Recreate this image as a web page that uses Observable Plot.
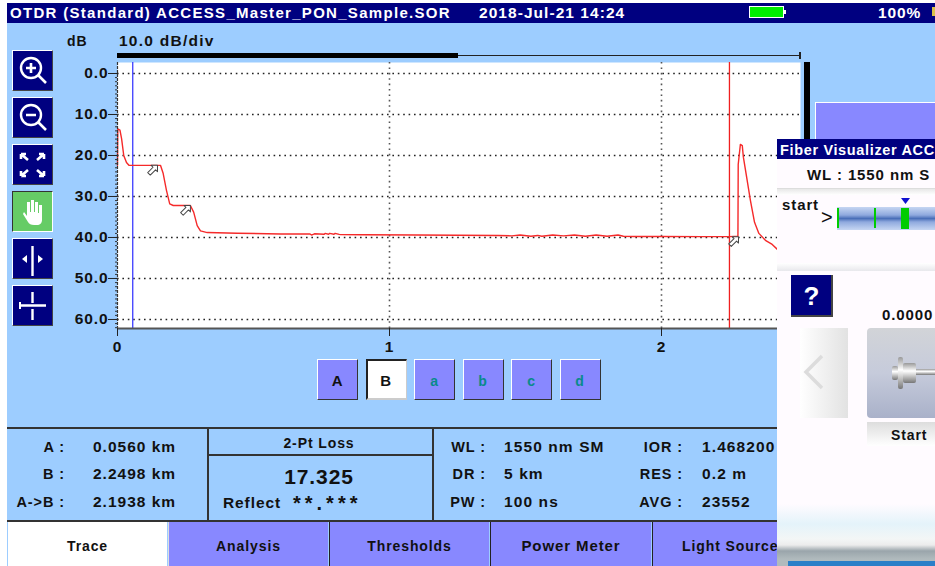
<!DOCTYPE html>
<html>
<head>
<meta charset="utf-8">
<script src="https://cdn.jsdelivr.net/npm/d3@7"></script>
<script src="https://cdn.jsdelivr.net/npm/@observablehq/plot@0.6"></script>
<style>
html,body{margin:0;padding:0;background:#fff}
#screen{position:relative;width:935px;height:566px;overflow:hidden;background:#fff;font-family:"Liberation Sans",sans-serif;font-weight:700;color:#111;letter-spacing:.9px}
.b{position:absolute;box-sizing:border-box}
.t{position:absolute;white-space:nowrap;line-height:20px;height:20px}
</style>
</head>
<body>
<div id="screen"></div>
<script>
// Trace
const traceKm = [0, 0.001, 0.009, 0.015, 0.023, 0.033, 0.042, 0.158, 0.168, 0.180, 0.192, 0.205, 0.268, 0.280, 0.293, 0.305, 0.330, 0.440, 0.600, 0.708, 0.713, 0.724, 0.760, 0.763, 0.776, 0.780, 0.796, 0.800, 0.815, 0.820, 0.900, 1.100, 1.400, 1.450, 1.480, 1.520, 1.545, 1.560, 1.600, 1.640, 1.680, 1.720, 1.760, 1.800, 1.840, 1.860, 1.900, 2.000, 2.150, 2.249, 2.281, 2.282, 2.290, 2.297, 2.301, 2.313, 2.327, 2.342, 2.358, 2.382, 2.407, 2.426, 2.470];
const traceDb = [22.4, 13.5, 13.8, 15.9, 20.0, 21.7, 22.4, 22.4, 24.4, 28.5, 31.8, 32.2, 32.2, 33.8, 37.1, 38.4, 38.8, 38.95, 39.15, 39.15, 39.4, 39.1, 39.2, 39.0, 39.2, 39.0, 39.2, 39.0, 39.25, 39.3, 39.35, 39.4, 39.5, 39.6, 39.4, 39.7, 39.5, 39.7, 39.4, 39.6, 39.4, 39.7, 39.4, 39.7, 39.4, 39.7, 39.75, 39.75, 39.8, 39.8, 39.7, 22.2, 17.3, 17.6, 20.4, 25.3, 31.0, 36.3, 39.0, 40.7, 41.7, 42.9, 44.5];
const eventKm = [0.147, 0.268, 2.283];
const eventDb = [22.4, 32.2, 39.8];
const cursorA = [0.0560];
const cursorB = [2.2498];
const dbTicks = [0, 10, 20, 30, 40, 50, 60];
const dbMinor = d3.range(0, 63, 1);
const kmTicks = [0, 1, 2];
const xDomain = [0, 2.511];
const yDomain = [-2.68, 62.2];

// Text of the instrument screen
const titleText = "OTDR (Standard) ACCESS_Master_PON_Sample.SOR";
const dateText = "2018-Jul-21 14:24";
const batteryText = "100%";
const cursorLabels = ["A :", "B :", "A->B :"];
const cursorValues = ["0.0560 km", "2.2498 km", "2.1938 km"];
const paramLabelsL = ["WL :", "DR :", "PW :"];
const paramValuesL = ["1550 nm SM", "5 km", "100 ns"];
const paramLabelsR = ["IOR :", "RES :", "AVG :"];
const paramValuesR = ["1.468200", "0.2 m", "23552"];
const tabNames = ["Trace", "Analysis", "Thresholds", "Power Meter", "Light Source"];
const markerNames = ["A", "B", "a", "b", "c", "d"];

const BG = "#9DCDFF", NAVY = "#000080", VIOLET = "#8888FF";
const stage = document.getElementById("screen");

function box(x, y, w, h, style = "", html = "") {
  const d = document.createElement("div");
  d.className = "b";
  d.style.cssText = `left:${x}px;top:${y}px;width:${w}px;height:${h}px;${style}`;
  d.innerHTML = html;
  stage.appendChild(d);
  return d;
}
function text(x, cy, s, opt = {}) {
  const d = document.createElement("div");
  d.className = "t";
  const tr = opt.anchor === "end" ? "translateX(-100%)" : opt.anchor === "middle" ? "translateX(-50%)" : "";
  d.style.cssText = `left:${x}px;top:${cy - 10}px;font-size:${opt.size || 14}px;color:${opt.color || "#111"};transform:${tr};${opt.style || ""}`;
  d.textContent = s;
  stage.appendChild(d);
  return d;
}

// Base screen
box(7, 3, 928, 563, `background:${BG}`);
box(7, 3, 928, 20, `background:${NAVY}`);
text(10, 13, titleText, {color: "#fff", size: 15, style: "letter-spacing:1.3px"});
text(479, 13, dateText, {color: "#fff", size: 15.5, style: "letter-spacing:1.05px"});
text(878, 13, batteryText, {color: "#fff", size: 15.5});
box(749, 6, 35, 12, "background:#00EE00;border:1px solid #fff");
box(784, 10, 2, 4, "background:#fff");
box(932, 7, 3, 9, "background:#D9C24A");
text(67, 41, "dB");
text(119, 41, "10.0 dB/div", {size: 15.5, style: "letter-spacing:1.25px"});
box(117, 53, 341, 5, "background:#000");
box(458, 55, 342, 1, "background:#222");
box(799, 52, 2, 7, "background:#222");
box(804, 62, 6, 80, "background:#000");
box(815, 102, 120, 40, `background:${VIOLET};border-top:1px solid #fff;border-left:1px solid #fff`);

// Left tool buttons
const icons = [
  `<circle cx="19" cy="18" r="10" fill="none" stroke="#fff" stroke-width="2.4"/><path d="M14 18h10M19 13v10M26 25l8 8" stroke="#fff" stroke-width="2.6" fill="none"/>`,
  `<circle cx="19" cy="18" r="10" fill="none" stroke="#fff" stroke-width="2.4"/><path d="M14 18h10M26 25l8 8" stroke="#fff" stroke-width="2.6" fill="none"/>`,
  `<path d="M9 10l7 6M9 10h5M9 10v5M32 10l-7 6M32 10h-5M32 10v5M9 32l7-6M9 32h5M9 32v-5M32 32l-7-6M32 32h-5M32 32v-5" stroke="#fff" stroke-width="2.6" fill="none"/>`,
  `<path d="M11 23l5 8c1 2 3 3 6 3h3c3 0 5-2 5-5V14h-3v8h-1V11h-3v10h-1V9h-3v12h-1V11h-3v14l-3-4z" fill="#fff"/>`,
  `<path d="M20.5 8v30" stroke="#fff" stroke-width="2.4"/><path d="M10 21l5-4v8zM31 21l-5-4v8z" fill="#fff"/>`,
  `<path d="M20.5 7v11M20.5 24v11M8 20.5h26" stroke="#fff" stroke-width="2.4"/><path d="M8 17v7" stroke="#fff" stroke-width="2"/>`
];
const buttonTops = [50, 97, 144, 191, 238, 285];
buttonTops.forEach((y, i) => {
  const green = i === 3;
  box(12, y, 41, 41,
    `background:${green ? "#66CC66" : NAVY};` + (green
      ? "border-top:1px solid #333;border-left:1px solid #333;border-right:1px solid #fff;border-bottom:1px solid #fff"
      : "border-top:1px solid #fff;border-left:1px solid #fff;border-right:1px solid #444;border-bottom:1px solid #444"),
    `<svg width="41" height="41" viewBox="0 0 41 41" style="position:absolute;left:-1px;top:-1px">${icons[i]}</svg>`);
});

// The chart itself
const arrowShape = {
  draw(c) {
    c.moveTo(0, 0); c.lineTo(4.5, -4.5); c.lineTo(1.8, -4.5); c.lineTo(1.8, -12);
    c.lineTo(-1.8, -12); c.lineTo(-1.8, -4.5); c.lineTo(-4.5, -4.5); c.closePath();
  }
};
const axisFont = {fontSize: 15.5, fontWeight: 700, fontFamily: "Liberation Sans", fill: "#111"};
const chart = Plot.plot({
  width: 935,
  height: 566,
  marginLeft: 117, marginRight: 135, marginTop: 62, marginBottom: 238,
  x: {domain: xDomain, label: null},
  y: {domain: yDomain, range: [62, 328], label: null},
  style: {background: "transparent", letterSpacing: "0.9px", overflow: "visible", position: "absolute", left: "0", top: "0", maxWidth: "none"},
  marks: [
    Plot.frame({fill: "#fff", stroke: null}),
    Plot.ruleY(dbTicks, {y: d => d, stroke: "#222", strokeWidth: 1.3, strokeDasharray: "1.6,3.8"}),
    Plot.ruleX(kmTicks.slice(1), {x: d => d, stroke: "#555", strokeWidth: 1.6, strokeDasharray: "1.6,3.8"}),
    Plot.ruleX(cursorA, {x: d => d, stroke: "#3C3CFF", strokeWidth: 1.3}),
    Plot.ruleX(cursorB, {x: d => d, stroke: "#F02020", strokeWidth: 1.3}),
    Plot.line(traceKm.map((k, i) => ({k, d: traceDb[i]})), {x: "k", y: "d", stroke: "#F52A2A", strokeWidth: 1.4}),
    Plot.vector(eventKm.map((k, i) => ({k, d: eventDb[i]})), {
      x: "k", y: "d", shape: arrowShape, anchor: "start", rotate: 225, length: 12,
      fill: "#fff", stroke: "#444", strokeWidth: 1
    }),
    Plot.ruleX([0], {x: d => d, stroke: "#333", strokeWidth: 1.2, strokeDasharray: "3,1"}),
    Plot.ruleY([yDomain[1]], {y: d => d, stroke: "#555", strokeWidth: 2}),
    Plot.axisY({ticks: dbMinor, tickSize: 2, tickFormat: () => "", label: null, stroke: "#333"}),
    Plot.axisY({ticks: dbTicks, tickSize: 9, tickPadding: 0, tickFormat: d3.format(".1f"), label: null, stroke: "#222", ...axisFont}),
    Plot.axisX({ticks: kmTicks, tickSize: 8, tickPadding: 4, tickFormat: d3.format("d"), label: null, stroke: "#222", ...axisFont})
  ]
});
stage.appendChild(chart);

// Marker buttons
markerNames.forEach((name, i) => {
  const x = 317 + i * 48.5;
  const selected = name === "B";
  box(x, 359, 41, 41,
    `background:${selected ? "#fff" : VIOLET};` + (selected
      ? "border-top:2px solid #222;border-left:2px solid #222;border-right:1px solid #ccc;border-bottom:2px solid #ccc"
      : "border-top:1px solid #fff;border-left:1px solid #fff;border-right:1px solid #333;border-bottom:1px solid #333"));
  text(x + 20.5, 381, name, {anchor: "middle", color: i < 2 ? "#111" : "#088A8A", size: i < 2 ? 15 : 14});
});

// Read-out table
box(7, 427, 770, 1.5, "background:#333");
box(7, 520, 770, 1.5, "background:#333");
box(207, 427, 1.5, 94, "background:#333");
box(432, 427, 1.5, 94, "background:#333");
box(207, 454, 226, 2, "background:#333");
[447, 474, 502].forEach((cy, i) => {
  text(65, cy, cursorLabels[i], {anchor: "end", size: 14.5});
  text(93, cy, cursorValues[i], {size: 15.5, style: "letter-spacing:1px"});
  text(486, cy, paramLabelsL[i], {anchor: "end", size: 14.5});
  text(504, cy, paramValuesL[i], {size: 15.5, style: "letter-spacing:1.1px"});
  text(683, cy, paramLabelsR[i], {anchor: "end", size: 14.5});
  text(702, cy, paramValuesR[i], {size: 15.5, style: "letter-spacing:1.1px"});
});
text(319, 443, "2-Pt Loss", {anchor: "middle"});
text(319, 477, "17.325", {anchor: "middle", size: 21});
text(223, 503, "Reflect", {size: 15.5});
text(293, 503, "**.***", {size: 20, style: "letter-spacing:4px"});

// Tabs
const tabX = [8, 169, 330, 491, 653];
const tabW = [159, 159, 159, 160, 130];
tabNames.forEach((name, i) => {
  box(tabX[i], 522, tabW[i], 44, `background:${i === 0 ? "#fff" : VIOLET}`);
  text(i === 4 ? 682 : tabX[i] + tabW[i] / 2, 546, name, {anchor: i === 4 ? "start" : "middle", size: i === 3 ? 15 : 14});
});
box(168, 522, 1, 44, "background:#ddd");
box(329, 522, 1, 44, "background:#222");
box(490, 522, 1, 44, "background:#222");
box(652, 522, 1, 44, "background:#222");

// Overlapping Fiber Visualizer panel
box(777, 139, 158, 427, "background:linear-gradient(#FFFBFF 0,#FFFBFF 365px,#E4F3FA 385px,#F3F6F6 400px,#ECECEC 406px,#9AA5AB 412px,#B0BABD 420px)");
box(777, 139, 158, 20, `background:${NAVY}`);
text(780, 150, "Fiber Visualizer ACC", {color: "#fff", size: 14.5, style: "letter-spacing:.65px"});
text(807, 175, "WL : 1550 nm S", {size: 15});
box(777, 188, 158, 1, "background:#ddd");
box(777, 189, 158, 6, "background:linear-gradient(#E8E8E8,#fff)");
box(777, 263, 158, 8, "background:linear-gradient(#fff,#E8E8EC)");
text(782, 205, "start", {size: 15});
text(821, 217, ">", {size: 20, style: "font-weight:400"});
box(837, 207, 98, 23, "background:linear-gradient(#C6D6F2,#8FA9DE 35%,#4A6FB8 50%,#8FA9DE 65%,#C6D6F2)");
box(837, 208, 2, 20, "background:#00CC00");
box(874, 208, 2, 20, "background:#00CC00");
box(901, 208, 8, 21, "background:#00CC00");
box(901, 198, 9, 6, `background:#1010D0;clip-path:polygon(0 0,100% 0,50% 100%)`);
box(791, 275, 42, 42, `background:${NAVY};border-right:2px solid #444;border-bottom:2px solid #444`);
text(812, 296, "?", {anchor: "middle", color: "#fff", size: 26});
text(882, 315, "0.0000", {size: 15});
box(800, 328, 48, 90, "background:linear-gradient(90deg,#fff,#E2E2E2)",
  `<svg width="48" height="90" style="position:absolute;left:0;top:0"><path d="M22 28L6 44L22 60" fill="none" stroke="#DCDCDC" stroke-width="3.5"/></svg>`);
box(867, 328, 68, 90, "background:linear-gradient(#D2D4D8,#C6CBDB 50%,#A9B1C9);border-radius:4px 0 0 4px",
  `<svg width="68" height="90" style="position:absolute;left:0;top:0"><defs><linearGradient id="cg" x1="0" y1="0" x2="0" y2="1"><stop offset="0" stop-color="#999"/><stop offset=".4" stop-color="#fff"/><stop offset="1" stop-color="#777"/></linearGradient></defs><rect x="25" y="38" width="6" height="14" fill="url(#cg)" rx="2"/><rect x="31" y="29" width="5" height="32" fill="url(#cg)" rx="2"/><rect x="36" y="35" width="13" height="20" fill="url(#cg)" rx="2"/><rect x="49" y="41" width="20" height="6" fill="url(#cg)"/></svg>`);
box(867, 422, 68, 24, "background:linear-gradient(#DDD,#fff)");
text(891, 435, "Start", {size: 14});
box(788, 561, 147, 5, "background:#2A7FC8");
</script>
</body>
</html>
